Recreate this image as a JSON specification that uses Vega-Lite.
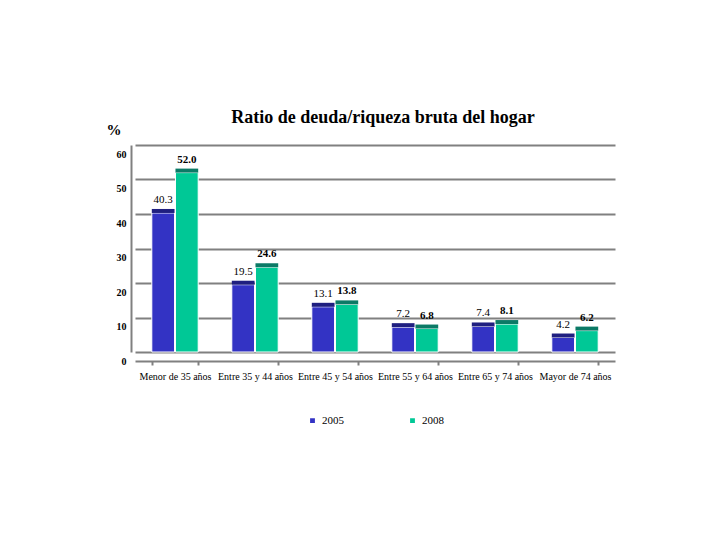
{
  "$schema": "https://vega.github.io/schema/vega-lite/v6.json",
  "width": 480,
  "height": 207,
  "autosize": "none",
  "padding": {"left": 135, "top": 145, "right": 105, "bottom": 188},
  "background": "white",
  "config": {"view": {"stroke": null}, "font": "Times New Roman, Liberation Serif, serif"},
  "title": {"text": "Ratio de deuda/riqueza bruta del hogar", "font": "Times New Roman, Liberation Serif, serif", "fontSize": 18, "fontWeight": "bold", "color": "#000000", "anchor": "middle", "dx": 8, "dy": 25, "offset": 20},
  "data": {"values": [
    {"grupo": "Menor de 35 años", "year": "2005", "valor": 40.3},
    {"grupo": "Menor de 35 años", "year": "2008", "valor": 52.0},
    {"grupo": "Entre 35 y 44 años", "year": "2005", "valor": 19.5},
    {"grupo": "Entre 35 y 44 años", "year": "2008", "valor": 24.6},
    {"grupo": "Entre 45 y 54 años", "year": "2005", "valor": 13.1},
    {"grupo": "Entre 45 y 54 años", "year": "2008", "valor": 13.8},
    {"grupo": "Entre 55 y 64 años", "year": "2005", "valor": 7.2},
    {"grupo": "Entre 55 y 64 años", "year": "2008", "valor": 6.8},
    {"grupo": "Entre 65 y 74 años", "year": "2005", "valor": 7.4},
    {"grupo": "Entre 65 y 74 años", "year": "2008", "valor": 8.1},
    {"grupo": "Mayor de 74 años", "year": "2005", "valor": 4.2},
    {"grupo": "Mayor de 74 años", "year": "2008", "valor": 6.2}
  ]},
  "encoding": {
    "x": {"field": "grupo", "type": "nominal", "sort": null,
      "scale": {"paddingInner": 0.42, "paddingOuter": 0.21},
      "axis": {"title": null, "labelAngle": 0, "labelFont": "Times New Roman, Liberation Serif, serif", "labelFontSize": 10, "labelColor": "#000000", "offset": 9, "domainColor": "#808080", "domainWidth": 2, "tickColor": "#808080", "tickWidth": 2, "tickSize": 4, "tickBand": "extent", "labelPadding": 6, "labelOverlap": false, "grid": false}},
    "xOffset": {"field": "year", "type": "nominal", "scale": {"paddingInner": 0.04}},
    "y": {"field": "valor", "type": "quantitative",
      "scale": {"domain": [0, 60]},
      "axis": {"title": "%", "titleAngle": 0, "titleFont": "Times New Roman, Liberation Serif, serif", "titleFontSize": 15, "titleFontWeight": "bold", "titleX": -25, "titleY": -8, "titleAlign": "left", "values": [0, 10, 20, 30, 40, 50, 60], "labelFont": "Times New Roman, Liberation Serif, serif", "labelFontSize": 10, "labelFontWeight": "bold", "labelColor": "#000000", "labelOffset": 9, "offset": 4, "grid": true, "gridColor": "#808080", "gridWidth": 2, "domainColor": "#808080", "domainWidth": 2, "ticks": false, "labelPadding": 5}}
  },
  "layer": [
    {
      "mark": {"type": "bar", "stroke": "white", "strokeWidth": 1},
      "encoding": {
        "color": {"field": "year", "type": "nominal",
          "scale": {"domain": ["2005", "2008"], "range": ["#3333c4", "#00c896"]},
          "legend": {"title": null, "orient": "none", "legendX": 172, "legendY": 270, "direction": "horizontal", "columns": 2, "columnPadding": 62, "symbolType": "square", "symbolSize": 40, "symbolOpacity": 1, "labelFont": "Times New Roman, Liberation Serif, serif", "labelFontSize": 11, "labelColor": "#000000"}}
      }
    },
    {
      "mark": {"type": "tick", "thickness": 4, "yOffset": -2, "opacity": 1},
      "encoding": {
        "color": {"field": "year", "type": "nominal", "scale": {"domain": ["2005", "2008"], "range": ["#1f1f80", "#0b7a66"]}, "legend": null}
      }
    },
    {
      "transform": [{"filter": "datum.year == '2005'"}],
      "mark": {"type": "text", "baseline": "bottom", "dy": -8, "fontSize": 11, "font": "Times New Roman, Liberation Serif, serif", "color": "#000000"},
      "encoding": {"text": {"field": "valor", "type": "quantitative", "format": ".1f"}}
    },
    {
      "transform": [{"filter": "datum.year == '2008'"}],
      "mark": {"type": "text", "baseline": "bottom", "dy": -8, "fontSize": 11, "fontWeight": "bold", "font": "Times New Roman, Liberation Serif, serif", "color": "#000000"},
      "encoding": {"text": {"field": "valor", "type": "quantitative", "format": ".1f"}}
    }
  ],
  "resolve": {"scale": {"color": "independent"}}
}
